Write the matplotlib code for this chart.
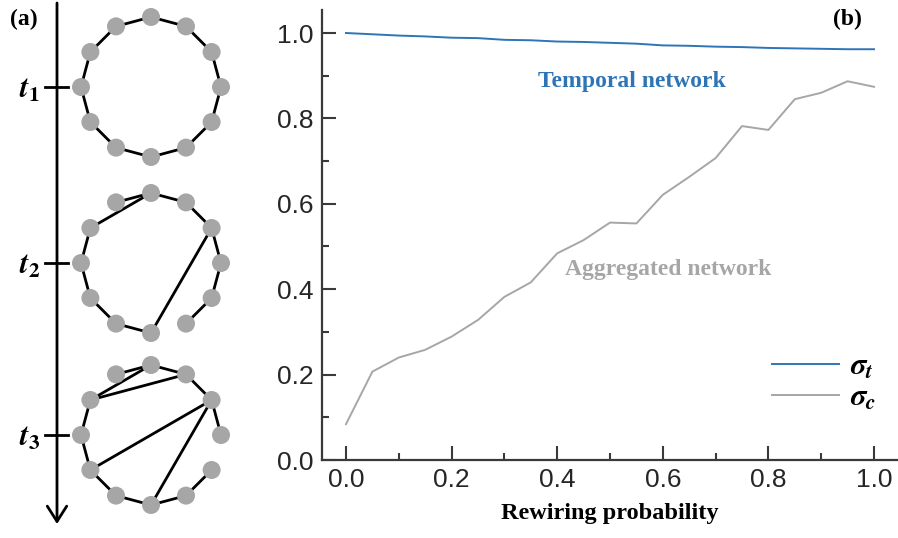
import numpy as np
import matplotlib
matplotlib.use("Agg")
import matplotlib.pyplot as plt
from matplotlib.patches import Circle
from matplotlib.ticker import MultipleLocator

# ---------------- data ----------------
rewiring_p = [0.00, 0.05, 0.10, 0.15, 0.20, 0.25, 0.30, 0.35, 0.40, 0.45, 0.50,
              0.55, 0.60, 0.65, 0.70, 0.75, 0.80, 0.85, 0.90, 0.95, 1.00]
sigma_t = [1.000, 0.997, 0.994, 0.992, 0.989, 0.988, 0.984, 0.983, 0.980, 0.979, 0.977,
           0.975, 0.971, 0.970, 0.968, 0.967, 0.965, 0.964, 0.963, 0.962, 0.962]
sigma_c = [0.084, 0.207, 0.240, 0.258, 0.289, 0.328, 0.382, 0.416, 0.484, 0.515, 0.556,
           0.554, 0.621, 0.663, 0.707, 0.782, 0.773, 0.845, 0.860, 0.887, 0.874]
x_ticks = [0.0, 0.2, 0.4, 0.6, 0.8, 1.0]
y_ticks = [0.0, 0.2, 0.4, 0.6, 0.8, 1.0]
legend_labels = [r'$\boldsymbol{\sigma}_{\boldsymbol{t}}$', r'$\boldsymbol{\sigma}_{\boldsymbol{c}}$']
series_names = ["Temporal network", "Aggregated network"]

# panel (a): 12-node ring snapshots; node k sits at angle k*30 degrees
n_nodes = 12
snapshot_labels = [r'$\boldsymbol{t}_{\mathbf{1}}$', r'$\boldsymbol{t}_{\mathbf{2}}$', r'$\boldsymbol{t}_{\mathbf{3}}$']
edges_t1 = [(k, (k + 1) % 12) for k in range(12)]
edges_t2 = [(0, 1), (1, 2), (2, 3), (3, 4), (3, 5), (5, 6), (6, 7), (7, 8), (8, 9),
            (0, 11), (11, 10), (1, 9)]
edges_t3 = [(3, 4), (2, 3), (3, 5), (2, 5), (1, 2), (0, 1), (1, 7), (1, 9),
            (10, 11), (9, 10), (8, 9), (7, 8), (6, 7), (5, 6)]
snapshots = [edges_t1, edges_t2, edges_t3]

# ---------------- style ----------------
BLUE = "#2e75b6"
GRAY = "#a6a6a6"
AXC = "#3a3a3a"
W, H = 898, 538
plt.rcParams['mathtext.fontset'] = 'stix'

fig = plt.figure(figsize=(W / 100, H / 100), dpi=100)

# ---------- panel (a): schematic in pixel coordinates ----------
ax0 = fig.add_axes([0, 0, 1, 1], zorder=0)
ax0.set_xlim(0, W)
ax0.set_ylim(H, 0)
ax0.axis('off')

centers_y = [87, 263, 435]
cx, R, node_r = 151, 70, 9
axis_x = 57
ax0.annotate("", xy=(axis_x, 524), xytext=(axis_x, 3),
             arrowprops=dict(arrowstyle="->,head_length=0.55,head_width=0.35",
                             lw=2.0, color="black", mutation_scale=20,
                             shrinkA=0, shrinkB=0))
ang = np.deg2rad(np.arange(n_nodes) * 360.0 / n_nodes)
for cy, edges, lab in zip(centers_y, snapshots, snapshot_labels):
    xs = cx + R * np.cos(ang)
    ys = cy - R * np.sin(ang)
    for a, b in edges:
        ax0.plot([xs[a], xs[b]], [ys[a], ys[b]], color="black", lw=2.0,
                 solid_capstyle='round', zorder=2)
    for x, y in zip(xs, ys):
        ax0.add_patch(Circle((x, y), node_r, facecolor=GRAY, edgecolor='none', zorder=3))
    ax0.plot([axis_x - 12, axis_x + 11], [cy, cy], color="black", lw=2.0)
    ax0.text(40, cy + 2, lab, fontsize=22, ha='right', va='center')

fig.text(24 / W, 1 - 19 / H, "(a)", fontsize=17, fontweight='bold',
         family='Liberation Serif', ha='center', va='center')

# ---------- panel (b) ----------
left_px, right_px, top_px, bot_px = 322, 898, 10, 460
ax = fig.add_axes([left_px / W, 1 - bot_px / H, (right_px - left_px) / W, (bot_px - top_px) / H],
                  zorder=2)
ax.patch.set_alpha(0)
ax.set_xlim(-24 / 528, 1 + 24 / 528)
ax.set_ylim(0, (bot_px - top_px) / 427)

ax.plot(rewiring_p, sigma_t, color=BLUE, lw=1.4, label=legend_labels[0])
ax.plot(rewiring_p, sigma_c, color=GRAY, lw=1.4, label=legend_labels[1])

for s in ['top', 'right']:
    ax.spines[s].set_visible(False)
for s in ['left', 'bottom']:
    ax.spines[s].set_color(AXC)
    ax.spines[s].set_linewidth(1.6)
    ax.spines[s].set_zorder(5)

ax.set_xticks(x_ticks)
ax.set_xticklabels([f"{v:.1f}" for v in x_ticks])
ax.set_yticks(y_ticks)
ax.set_yticklabels([f"{v:.1f}" for v in y_ticks])
ax.xaxis.set_minor_locator(MultipleLocator(0.1))
ax.yaxis.set_minor_locator(MultipleLocator(0.1))
ax.tick_params(which='both', direction='in', color=AXC, width=1.5,
               labelsize=19, labelcolor='#262626')
ax.tick_params(which='major', length=10)
ax.tick_params(which='minor', length=5)
ax.tick_params(axis='x', which='major', pad=6)
ax.tick_params(axis='y', which='major', pad=6)
for t in ax.get_xticklabels() + ax.get_yticklabels():
    t.set_family('Liberation Sans')

ax.set_xlabel("Rewiring probability", fontsize=17.5, fontweight='bold',
              family='Liberation Serif', labelpad=8)

ax.text(0.5417, 0.874, series_names[0], color=BLUE, fontsize=17, fontweight='bold',
        family='Liberation Serif', ha='center', va='baseline')
ax.text(0.61, 0.433, series_names[1], color=GRAY, fontsize=17, fontweight='bold',
        family='Liberation Serif', ha='center', va='baseline')

fig.text(847 / W, 1 - 19 / H, "(b)", fontsize=17, fontweight='bold',
         family='Liberation Serif', ha='center', va='center')

ax.legend(loc='upper left', bbox_to_anchor=((772 - left_px) / 576, (bot_px - 352) / 450),
          frameon=False, fontsize=22, handlelength=2.2, handletextpad=0.35,
          labelspacing=0.05, borderpad=0, borderaxespad=0)

fig.savefig("out.png", dpi=100)
